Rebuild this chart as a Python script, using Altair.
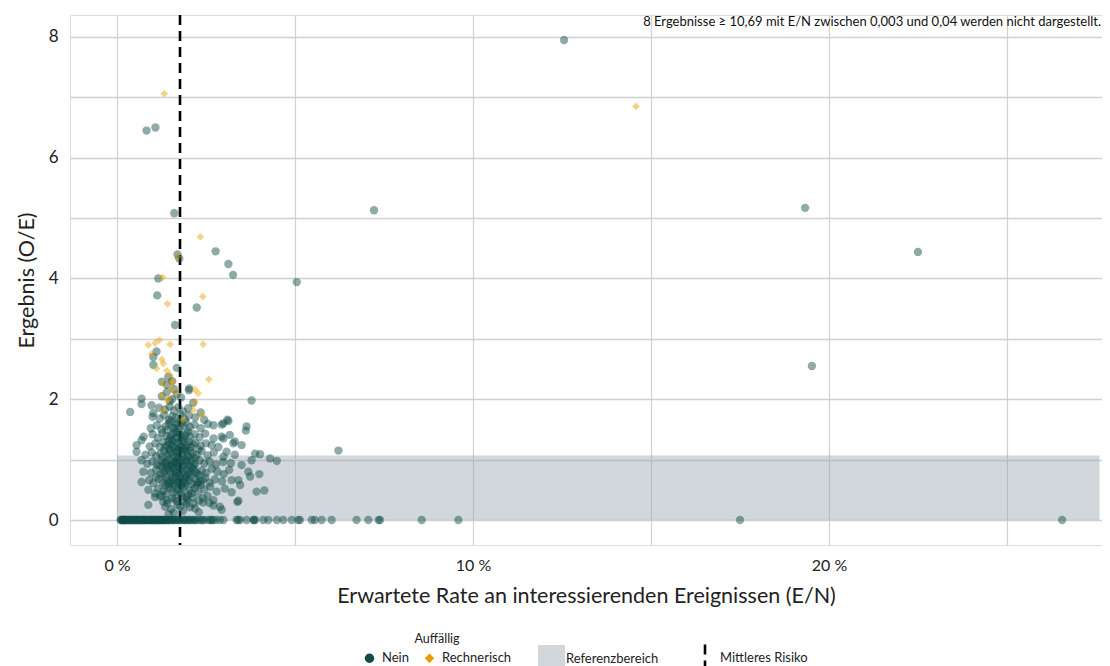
import altair as alt
import pandas as pd

FONT = "Lato"

# ---------------- data ----------------
# Auffällig = "Nein": isolated points (E/N in %, O/E)
nein_outliers = [
    (12.56, 7.95), (0.83, 6.45), (1.08, 6.50), (7.22, 5.13), (19.33, 5.17),
    (22.50, 4.44), (19.52, 2.55), (5.05, 3.94), (6.22, 1.15), (2.77, 4.45),
    (3.13, 4.24), (3.26, 4.06), (1.61, 5.08), (1.70, 4.40), (1.75, 4.33),
    (1.16, 4.00), (1.13, 3.72), (2.24, 3.52), (1.63, 3.23), (3.78, 1.98),
]

# Auffällig = "Nein": main cluster
nein_cluster = [
    (1.35, 0.22), (1.52, 0.18), (1.70, 0.25), (1.85, 0.15), (2.05, 0.21), (2.42, 0.29),
    (2.71, 0.24), (2.89, 0.22), (2.94, 0.17), (0.88, 0.25), (1.60, 0.12), (1.95, 0.27),
    (2.20, 0.19), (1.45, 0.10), (2.30, 0.13),
    (1.07, 0.38), (1.21, 0.39), (1.40, 0.33), (1.55, 0.36), (1.68, 0.31), (1.82, 0.40),
    (1.98, 0.34), (2.12, 0.37), (2.30, 0.32), (2.55, 0.40), (3.38, 0.30), (3.41, 0.32),
    (2.71, 0.33), (2.42, 0.36), (2.60, 0.28), (1.30, 0.30), (1.90, 0.30),
    (0.88, 0.50), (1.07, 0.44), (1.15, 0.52), (1.30, 0.48), (1.45, 0.55), (1.58, 0.46),
    (1.72, 0.51), (1.80, 0.44), (1.90, 0.56), (2.05, 0.49), (2.18, 0.53), (2.28, 0.45),
    (2.45, 0.51), (2.62, 0.55), (2.80, 0.47), (3.03, 0.52), (3.22, 0.46), (3.46, 0.58),
    (3.92, 0.47), (4.14, 0.49), (1.62, 0.58), (2.00, 0.42), (1.38, 0.43), (2.36, 0.58),
    (0.69, 0.63), (0.90, 0.66), (1.02, 0.61), (1.18, 0.68), (1.28, 0.62), (1.38, 0.70),
    (1.50, 0.64), (1.60, 0.67), (1.70, 0.61), (1.78, 0.69), (1.86, 0.63), (1.95, 0.71),
    (2.02, 0.65), (2.10, 0.60), (2.20, 0.68), (2.33, 0.63), (2.48, 0.70), (2.60, 0.62),
    (2.75, 0.67), (2.95, 0.64), (3.22, 0.66), (3.41, 0.66), (3.74, 0.72), (1.44, 0.60),
    (1.66, 0.72), (1.92, 0.61), (2.40, 0.66), (1.10, 0.71),
    (0.74, 0.80), (0.95, 0.78), (1.10, 0.83), (1.22, 0.76), (1.33, 0.81), (1.42, 0.85),
    (1.52, 0.77), (1.62, 0.82), (1.72, 0.79), (1.80, 0.86), (1.88, 0.75), (1.97, 0.83),
    (2.05, 0.79), (2.15, 0.84), (2.25, 0.77), (2.38, 0.82), (2.50, 0.78), (2.66, 0.85),
    (2.82, 0.80), (3.00, 0.76), (3.15, 0.83), (3.69, 0.80), (4.00, 0.76), (1.58, 0.87),
    (1.76, 0.74), (2.08, 0.87), (2.30, 0.74), (1.28, 0.88),
    (0.69, 0.99), (0.85, 0.93), (1.00, 0.97), (1.12, 0.92), (1.25, 0.98), (1.35, 0.94),
    (1.45, 1.00), (1.55, 0.91), (1.65, 0.96), (1.75, 0.93), (1.83, 1.00), (1.92, 0.95),
    (2.00, 0.91), (2.10, 0.98), (2.20, 0.93), (2.32, 0.99), (2.45, 0.94), (2.60, 0.97),
    (2.78, 0.92), (2.98, 0.96), (3.20, 0.94), (3.50, 0.91), (3.78, 0.99), (4.30, 1.02),
    (4.49, 0.98), (1.50, 0.90), (1.70, 1.01), (1.88, 0.90), (2.05, 1.02), (1.40, 0.89),
    (0.55, 1.13), (0.80, 1.08), (0.98, 1.12), (1.10, 1.06), (1.22, 1.10), (1.32, 1.15),
    (1.42, 1.07), (1.52, 1.12), (1.62, 1.05), (1.72, 1.14), (1.82, 1.09), (1.90, 1.16),
    (2.00, 1.06), (2.12, 1.11), (2.24, 1.08), (2.38, 1.14), (2.55, 1.07), (2.72, 1.12),
    (2.99, 1.05), (3.08, 1.13), (3.31, 1.08), (3.88, 1.10), (4.02, 1.09), (1.47, 1.17),
    (1.68, 1.04), (1.95, 1.13), (2.30, 1.17),
    (0.55, 1.24), (0.69, 1.32), (0.92, 1.22), (1.08, 1.27), (1.20, 1.21), (1.30, 1.29),
    (1.40, 1.23), (1.50, 1.26), (1.60, 1.20), (1.70, 1.28), (1.80, 1.22), (1.88, 1.30),
    (1.98, 1.25), (2.08, 1.21), (2.20, 1.28), (2.35, 1.23), (2.50, 1.27), (2.66, 1.24),
    (2.85, 1.21), (3.27, 1.27), (3.50, 1.24), (1.55, 1.31), (1.75, 1.19), (2.71, 1.35),
    (0.75, 1.38), (1.00, 1.42), (1.15, 1.36), (1.27, 1.44), (1.38, 1.39), (1.48, 1.35),
    (1.58, 1.43), (1.68, 1.37), (1.78, 1.41), (1.86, 1.36), (1.96, 1.44), (2.06, 1.38),
    (2.18, 1.42), (2.32, 1.37), (2.48, 1.43), (2.94, 1.38), (2.99, 1.35), (3.17, 1.41),
    (3.31, 1.30), (1.65, 1.46),
    (0.95, 1.52), (1.12, 1.57), (1.25, 1.50), (1.36, 1.55), (1.46, 1.60), (1.56, 1.53),
    (1.66, 1.58), (1.76, 1.51), (1.85, 1.56), (1.95, 1.61), (2.05, 1.54), (2.18, 1.58),
    (2.35, 1.52), (2.55, 1.59), (2.71, 1.57), (2.94, 1.58), (3.62, 1.48), (3.64, 1.55),
    (2.99, 1.60),
    (1.00, 1.71), (1.20, 1.68), (1.32, 1.74), (1.45, 1.66), (1.55, 1.72), (1.65, 1.69),
    (1.78, 1.75), (1.90, 1.67), (2.02, 1.73), (2.20, 1.70), (2.45, 1.66), (3.10, 1.66),
    (3.13, 1.64),
    (0.37, 1.79), (0.69, 1.92), (0.97, 1.90), (1.02, 1.77), (1.18, 1.86), (1.35, 1.83),
    (1.48, 1.88), (1.60, 1.81), (1.72, 1.87), (1.85, 1.80), (2.00, 1.85), (2.14, 1.94),
    (2.35, 1.78),
    (0.69, 2.01), (1.26, 2.05), (1.40, 2.12), (1.55, 2.00), (1.68, 2.08), (1.80, 2.03),
    (2.02, 2.15), (1.60, 2.17), (1.48, 1.97),
    (1.02, 2.57), (1.26, 2.29), (1.40, 2.24), (1.44, 2.37), (1.68, 2.52), (2.03, 2.18),
    (1.11, 2.79), (1.02, 2.70), (1.55, 2.30),
]

# Auffällig = "Nein": extra points in the dense core
nein_core = [
    (1.42, 0.28), (1.63, 0.35), (1.78, 0.22), (1.95, 0.38), (2.15, 0.27), (1.25, 0.41),
    (1.50, 0.52), (1.68, 0.47), (1.85, 0.53), (2.10, 0.45), (2.24, 0.57), (1.35, 0.57),
    (1.40, 0.66), (1.56, 0.71), (1.74, 0.65), (1.90, 0.68), (2.06, 0.72), (2.26, 0.62),
    (1.30, 0.77), (1.47, 0.81), (1.66, 0.78), (1.84, 0.81), (2.00, 0.76), (2.20, 0.80),
    (1.20, 0.90), (1.38, 0.96), (1.60, 0.93), (1.78, 0.97), (1.96, 0.99), (2.15, 0.90),
    (1.27, 1.04), (1.46, 1.10), (1.66, 1.12), (1.86, 1.05), (2.06, 1.14), (2.20, 1.03),
    (1.35, 1.20), (1.55, 1.22), (1.75, 1.26), (1.93, 1.20), (2.14, 1.25), (1.45, 1.30),
    (1.62, 1.33), (1.82, 1.32), (2.02, 1.30), (1.52, 1.40), (1.73, 1.45), (1.91, 1.40),
    (1.42, 1.49), (1.62, 1.52), (1.80, 1.60), (2.00, 1.48), (1.50, 1.64), (1.70, 1.62),
    (1.58, 0.98), (1.72, 0.88), (1.88, 1.18), (1.64, 1.16), (1.80, 0.58), (1.58, 0.60),
]

# Auffällig = "Nein": results of 0 (E/N in %)
nein_zero_x = [
    0.10, 0.12, 0.14, 0.17, 0.18, 0.20, 0.22, 0.25, 0.26, 0.30, 0.33, 0.34, 0.38, 0.41,
    0.42, 0.46, 0.50, 0.52, 0.54, 0.57, 0.58, 0.62, 0.66, 0.68, 0.70, 0.74, 0.77, 0.78,
    0.82, 0.86, 0.90, 0.93, 0.94, 0.98, 1.02, 1.04, 1.06, 1.10, 1.14, 1.17, 1.18, 1.22,
    1.26, 1.29, 1.30, 1.34, 1.38, 1.42, 1.46, 1.50, 1.55, 1.60, 1.65, 1.70, 1.76, 1.82,
    1.88, 1.94, 2.00, 2.07, 2.14, 2.21, 2.28, 2.36, 2.45, 2.55, 2.62, 2.70, 2.78,
    2.89, 2.99, 3.36, 3.46, 3.64, 3.83, 3.88, 4.11, 4.25, 4.49, 4.67, 4.91, 5.09, 5.14,
    5.47, 5.56, 5.75, 6.03, 6.73, 7.06, 7.35, 7.39, 8.56, 9.59, 17.50, 26.55,
    0.15, 0.24, 0.36, 0.48, 0.60, 0.72, 0.84, 0.96, 1.08, 1.20, 1.32, 1.44, 1.58, 1.73,
    1.90, 2.04, 2.18, 2.40, 2.66, 3.40, 3.85,
]

# Auffällig = "Rechnerisch"
rech_points = [
    (1.33, 7.06), (14.58, 6.85), (2.34, 4.69), (2.41, 3.70), (1.42, 3.58), (1.28, 4.02),
    (1.70, 4.36), (0.88, 2.90), (1.07, 2.93), (1.19, 2.98), (1.49, 2.91), (2.42, 2.91),
    (0.97, 2.75), (1.26, 2.66), (1.30, 2.59), (1.11, 2.51), (1.40, 2.47), (2.58, 2.33),
    (1.58, 2.29), (1.49, 2.40), (1.30, 2.26), (1.53, 2.27), (1.44, 2.01), (1.30, 1.82),
    (1.85, 1.66), (1.26, 2.07), (1.66, 2.10), (2.28, 2.10), (2.19, 2.16), (2.14, 1.82),
    (2.38, 1.74), (1.52, 2.16), (1.41, 1.98), (2.19, 1.96),
]

status_labels = ["Nein", "Rechnerisch"]
status_colors = ["#0e4d49", "#e69f00"]
status_shapes = ["circle", "diamond"]

mean_risk = [1.77]
mean_label = "Mittleres Risiko"
ref_x = [0.0, 27.6]
ref_y = [0.0, 1.07]
ref_label = "Referenzbereich"
x_ticks = [0, 5, 10, 15, 20, 25]
y_ticks = [0, 1, 2, 3, 4, 5, 6, 7, 8]
note_text = "8 Ergebnisse \u2265 10,69 mit E/N zwischen 0,003 und 0,04 werden nicht dargestellt."

# ---------------- tables ----------------
rows = []
for x, y in nein_outliers + nein_cluster + nein_core:
    rows.append({"x": x, "y": y, "Auffällig": "Nein"})
for x in nein_zero_x:
    rows.append({"x": x, "y": 0.0, "Auffällig": "Nein"})
nein_df = pd.DataFrame(rows)
rech_df = pd.DataFrame([{"x": x, "y": y, "Auffällig": "Rechnerisch"} for x, y in rech_points])
band_df = pd.DataFrame([{"x0": ref_x[0], "x1": ref_x[1], "y0": ref_y[0], "y1": ref_y[1], "lab": ref_label}])
rule_df = pd.DataFrame([{"x": mean_risk[0], "lab": mean_label}])
note_df = pd.DataFrame([{"t": note_text}])

W, H = 1032, 530
x_scale = alt.Scale(domain=[-1.32, 27.67], nice=False, zero=False)
y_scale = alt.Scale(domain=[-0.414, 8.364], nice=False, zero=False)

x_axis = alt.Axis(
    values=x_ticks, labelExpr="datum.value % 10 == 0 ? datum.value + ' %' : ''",
    grid=True, gridColor="#d0d0d0", gridWidth=1.2, domain=False, ticks=False,
    labelFontSize=16, labelPadding=12, labelFlush=False, labelOverlap=False,
    labelColor="#222222", titleFontSize=21.5, titleFontWeight="normal", titlePadding=12,
    titleColor="#222222", labelFont=FONT, titleFont=FONT,
)
y_axis = alt.Axis(
    values=y_ticks, labelExpr="datum.value % 2 == 0 ? datum.value : ''",
    grid=True, gridColor="#d0d0d0", gridWidth=1.5, domain=False, ticks=False,
    labelFontSize=17, labelPadding=12, labelOverlap=False, labelColor="#222222",
    titleFontSize=21.5, titleFontWeight="normal", titlePadding=10, titleColor="#222222",
    labelFont=FONT, titleFont=FONT,
)

band = alt.Chart(band_df).mark_rect(opacity=0.45).encode(
    x=alt.X("x0:Q", scale=x_scale, axis=x_axis, title="Erwartete Rate an interessierenden Ereignissen (E/N)"),
    x2="x1:Q",
    y=alt.Y("y0:Q", scale=y_scale, axis=y_axis, title="Ergebnis (O/E)"),
    y2="y1:Q",
    fill=alt.Fill("lab:N", scale=alt.Scale(domain=[ref_label], range=["#9aa6b0"]),
                  legend=alt.Legend(title=None, orient="none", legendX=468, legendY=630,
                                    symbolType="square", symbolSize=729, symbolOpacity=0.45,
                                    symbolStrokeWidth=0, labelOffset=1, labelFontSize=13,
                                    labelFont=FONT, labelColor="#222222")),
)

status_legend = alt.Legend(
    title="Auffällig", orient="none", legendX=293, legendY=618, direction="horizontal",
    titleAnchor="middle", titleFontSize=12.5, titleFontWeight="normal", titleFont=FONT,
    titleColor="#222222", titlePadding=6, labelFontSize=13, labelFont=FONT,
    labelColor="#222222", symbolSize=90, symbolOpacity=1, symbolStrokeWidth=0,
    labelOffset=6, columnPadding=14,
)
color_enc = alt.Color("Auffällig:N", scale=alt.Scale(domain=status_labels, range=status_colors),
                      legend=status_legend)
shape_enc = alt.Shape("Auffällig:N", scale=alt.Scale(domain=status_labels, range=status_shapes),
                      legend=status_legend)

pts_nein = alt.Chart(nein_df).mark_point(filled=True, size=70, opacity=0.47, strokeWidth=0).encode(
    x=alt.X("x:Q", scale=x_scale), y=alt.Y("y:Q", scale=y_scale), color=color_enc, shape=shape_enc,
)
pts_rech = alt.Chart(rech_df).mark_point(filled=True, size=60, opacity=0.45, strokeWidth=0).encode(
    x=alt.X("x:Q", scale=x_scale), y=alt.Y("y:Q", scale=y_scale), color=color_enc, shape=shape_enc,
)

rule = alt.Chart(rule_df).mark_rule(color="black", strokeWidth=2.6).encode(
    x=alt.X("x:Q", scale=x_scale),
    strokeDash=alt.StrokeDash("lab:N", scale=alt.Scale(domain=[mean_label], range=[[10, 6]]),
                              legend=alt.Legend(title=None, orient="none", legendX=620, legendY=628,
                                                symbolType="M0,-1L0,1", symbolSize=729,
                                                symbolStrokeColor="black", symbolStrokeWidth=2.6,
                                                labelOffset=0, labelFontSize=13, labelFont=FONT,
                                                labelColor="#222222")),
)

note = alt.Chart(note_df).mark_text(align="right", baseline="middle", fontSize=13,
                                    font=FONT, color="#111111").encode(
    x=alt.value(W - 1), y=alt.value(7), text="t:N",
)

chart = alt.layer(band, rule, pts_nein, pts_rech, note).properties(
    width=W, height=H,
    autosize=alt.AutoSizeParams(type="none"),
    padding={"left": 62, "top": 7, "right": 0, "bottom": 121},
).configure_view(stroke=None).configure(font=FONT)

chart.save("out.html", embed_options={"renderer": "svg", "actions": False})
